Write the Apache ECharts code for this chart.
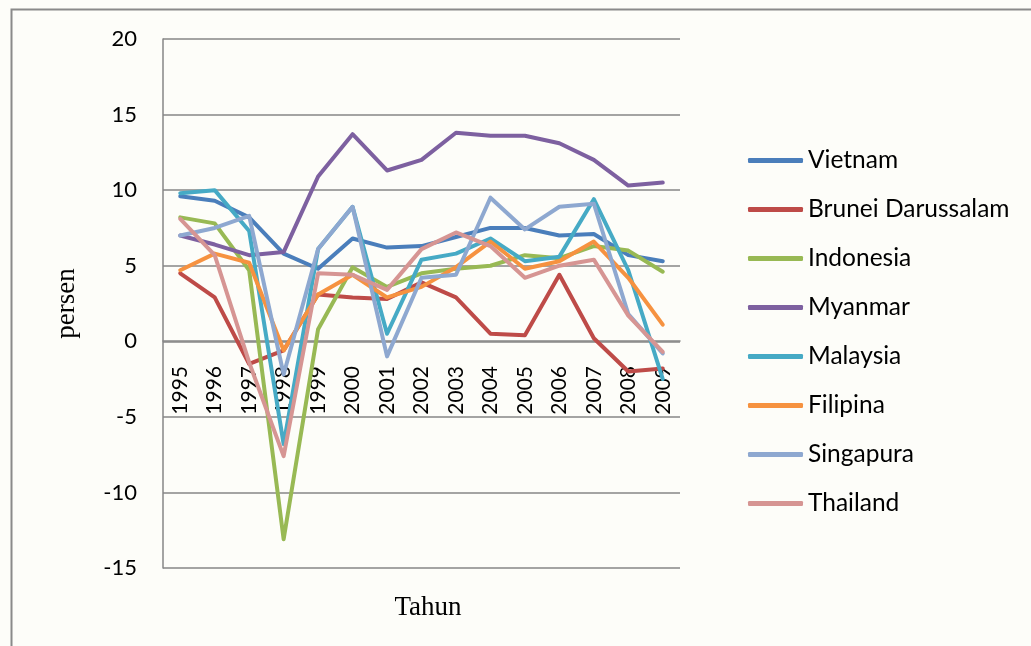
<!DOCTYPE html>
<html>
<head>
<meta charset="utf-8">
<title>Pertumbuhan ekonomi ASEAN 1995-2009</title>
<script src="https://cdn.jsdelivr.net/npm/echarts@6/dist/echarts.min.js"></script>
<style>
  html, body { margin: 0; padding: 0; background: #fdfdf9; }
  #chartDiv { width: 1031px; height: 646px; }
</style>
</head>
<body>
<div id="chartDiv"></div>
<script>
//tahun (sumbu x)
var years = ['1995', '1996', '1997', '1998', '1999', '2000', '2001', '2002',
             '2003', '2004', '2005', '2006', '2007', '2008', '2009'];
//pertumbuhan tiap negara (persen)
var vietnam   = [9.6, 9.3, 8.2, 5.8, 4.8, 6.8, 6.2, 6.3, 6.9, 7.5, 7.5, 7.0, 7.1, 5.7, 5.3];
var brunei    = [4.5, 2.9, -1.5, -0.6, 3.1, 2.9, 2.8, 3.9, 2.9, 0.5, 0.4, 4.4, 0.2, -2.0, -1.8];
var indonesia = [8.2, 7.8, 4.7, -13.1, 0.8, 4.9, 3.6, 4.5, 4.8, 5.0, 5.7, 5.5, 6.3, 6.0, 4.6];
var myanmar   = [7.0, 6.4, 5.7, 5.9, 10.9, 13.7, 11.3, 12.0, 13.8, 13.6, 13.6, 13.1, 12.0, 10.3, 10.5];
var malaysia  = [9.8, 10.0, 7.3, -6.8, 6.1, 8.9, 0.5, 5.4, 5.8, 6.8, 5.3, 5.6, 9.4, 4.7, -2.5];
var filipina  = [4.7, 5.8, 5.2, -0.6, 3.1, 4.4, 2.9, 3.6, 4.9, 6.6, 4.8, 5.3, 6.6, 4.2, 1.1];
var singapura = [7.0, 7.5, 8.3, -2.2, 6.1, 8.9, -1.0, 4.2, 4.4, 9.5, 7.4, 8.9, 9.1, 1.8, -0.8];
var thailand  = [8.1, 5.7, -1.4, -7.6, 4.5, 4.4, 3.4, 6.1, 7.2, 6.3, 4.2, 5.0, 5.4, 1.7, -0.7];

var seriesNames = ['Vietnam', 'Brunei Darussalam', 'Indonesia', 'Myanmar',
                   'Malaysia', 'Filipina', 'Singapura', 'Thailand'];
var seriesData = [vietnam, brunei, indonesia, myanmar, malaysia, filipina, singapura, thailand];
var colors = ['#4a7ebb', '#be4b48', '#98b954', '#7d60a0', '#46aac5', '#f69240', '#8ea8d0', '#d69593'];

var chart;

//inisialisasi
function InitChart() {
    chart = echarts.init(document.getElementById('chartDiv'));
    var series = [];
    for (var i = 0; i < seriesNames.length; i++) {
        series.push({
            name: seriesNames[i],
            type: 'line',
            data: seriesData[i],
            symbol: 'none',
            color: colors[i],
            lineStyle: { width: 4, cap: 'round', join: 'round' }
        });
    }
    var option = {
        backgroundColor: '#fdfdf9',
        animation: false,
        color: colors,
        grid: { left: 163, right: 351, top: 39, bottom: 78 },
        legend: {
            orient: 'vertical',
            left: 748,
            top: 148,
            padding: 0,
            icon: 'roundRect',
            itemWidth: 55,
            itemHeight: 5,
            itemGap: 24,
            textStyle: { fontFamily: 'Lato', fontSize: 24.5, color: '#000', lineHeight: 24 },
            data: seriesNames
        },
        xAxis: {
            type: 'category',
            data: years,
            boundaryGap: true,
            // sumbu x digeser ke garis nol (568 - 341 = 227)
            offset: -227,
            axisLine: { onZero: false, lineStyle: { color: '#868686', width: 1.5 } },
            axisTick: { show: false },
            axisLabel: {
                rotate: 90,
                margin: 25,
                interval: 0,
                fontFamily: 'Lato',
                fontSize: 21,
                color: '#000'
            }
        },
        yAxis: {
            type: 'value',
            min: -15,
            max: 20,
            interval: 5,
            name: 'persen',
            nameLocation: 'middle',
            nameGap: 83,
            nameTextStyle: { fontFamily: 'Liberation Serif', fontSize: 27, color: '#000' },
            axisLine: { show: true, lineStyle: { color: '#868686', width: 1.5 } },
            axisTick: { show: false },
            axisLabel: { margin: 26, fontFamily: 'Lato', fontSize: 22, color: '#000' },
            splitLine: { lineStyle: { color: '#868686', width: 1.5 } }
        },
        graphic: [
            {
                type: 'rect',
                left: 9, top: 7,
                shape: { width: 1040, height: 660 },
                style: { fill: 'none', stroke: '#8a8a8a', lineWidth: 2 },
                silent: true
            },
            {
                type: 'text',
                x: 428, y: 608,
                style: {
                    text: 'Tahun',
                    font: '27px "Liberation Serif"',
                    fill: '#000',
                    align: 'center',
                    verticalAlign: 'middle'
                }
            }
        ],
        series: series
    };
    chart.setOption(option);
}

InitChart();
</script>
</body>
</html>
